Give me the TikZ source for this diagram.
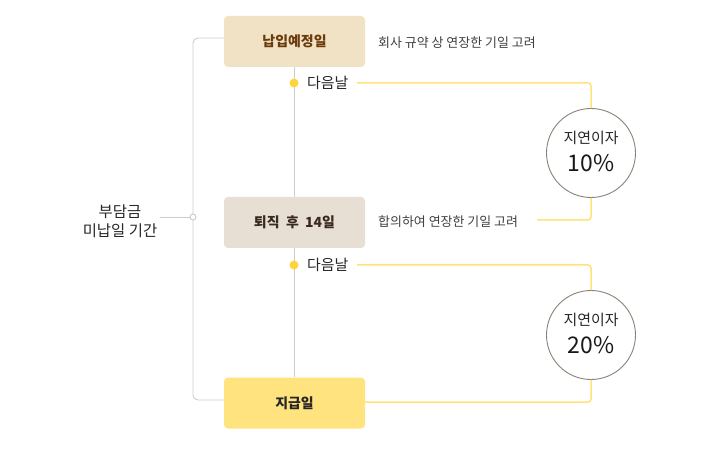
\documentclass[tikz,border=0pt]{standalone}
\usepackage{fontspec}
\usetikzlibrary{backgrounds}
\newfontfamily\kr{Noto Sans CJK KR}
\newfontfamily\krl{Noto Sans CJK KR Light}
\setmainfont{Noto Sans CJK KR}
\begin{document}
\begin{tikzpicture}[x=1bp,y=-1bp,
  box/.style={rounded corners=4bp, minimum width=141bp, minimum height=51bp, inner sep=0pt, font=\kr\bfseries\fontsize{14}{16}\selectfont},
  note/.style={anchor=west, inner sep=0pt, text=black!75, font=\kr\fontsize{13}{15}\selectfont},
  nextday/.style={anchor=west, inner sep=0pt, text=black!85, font=\kr\fontsize{15}{17}\selectfont},
  rate/.style={circle, draw=circ, line width=0.9bp, minimum size=89bp, inner sep=0pt, fill=white},
  ratelbl/.style={inner sep=0pt, text=black!85, font=\kr\fontsize{15}{17}\selectfont},
  ratepct/.style={inner sep=0pt, text=black!90, font=\kr\fontsize{23}{26}\selectfont},
  gline/.style={draw=lgray, line width=0.9bp},
  yline/.style={draw=ylw, line width=1.5bp, rounded corners=3bp},
  ydot/.style={circle, fill=ydot, minimum size=9bp, inner sep=0pt}
]
\definecolor{lgray}{HTML}{CCCCCC}
\definecolor{ylw}{HTML}{FFE27A}
\definecolor{ydot}{HTML}{FFD43B}
\definecolor{circ}{HTML}{8A8279}
\definecolor{b1}{HTML}{F2E2C5}
\definecolor{b2}{HTML}{E8DFD4}
\definecolor{b3}{HTML}{FFE37F}
\definecolor{brown}{HTML}{6A3B0B}
\definecolor{dbrown}{HTML}{3A2A1E}
\useasboundingbox (0,0) rectangle (721,449);

\node[box, fill=b1, text=brown] (d1) at (294.5,41.5) {납입예정일};
\node[box, fill=b2, text=dbrown] (d2) at (294.5,222.5) {퇴직\ \ 후\ \ 14일};
\node[box, fill=b3, text=black!85] (d3) at (294.5,403) {지급일};

\node[align=center, inner sep=0pt, text=black!85, font=\kr\fontsize{15.5}{19.5}\selectfont] (lbl) at (120,221) {부담금\\미납일 기간};
\coordinate (jn) at (193,217);
\coordinate (lend) at (160,217);

% gray connectors
\begin{scope}[on background layer]
\draw[gline] (d1.south) -- (d3.north);
\draw[gline, rounded corners=5bp] (d1.west |- 0,38) -- (193,38) -- (193,400) -- (d3.west |- 0,400);
\draw[gline] (lend) -- (jn);
\end{scope}
\draw[lgray, line width=0.9bp, fill=white] (jn) circle (3bp);

\node[note] (n1) at (378,43) {회사 규약 상 연장한 기일 고려};
\node[note] (n2) at (378,222) {합의하여 연장한 기일 고려};

\node[ydot] (p1) at (294,83) {};
\node[nextday] (t1) at (307,83) {다음날};
\node[ydot] (p2) at (294,265) {};
\node[nextday] (t2) at (307,265) {다음날};

\node[rate] (c1) at (591,153) {};
\node[ratelbl] (c1a) at (591,138) {지연이자};
\node[ratepct] (c1b) at (591,163) {10\%};
\node[rate] (c2) at (591,335) {};
\node[ratelbl] (c2a) at (591,320) {지연이자};
\node[ratepct] (c2b) at (591,345) {20\%};

\coordinate (e1) at (357,83);
\coordinate (e2) at (537,220);
\coordinate (e3) at (357,265);

\draw[yline] (e1) -- (591,83) -- (c1.north);
\draw[yline] (c1.south) -- (591,220) -- (e2);
\draw[yline] (e3) -- (591,265) -- (c2.north);
\draw[yline] (c2.south) -- (591,402) -- (d3.east |- 0,402);
\end{tikzpicture}
\end{document}
